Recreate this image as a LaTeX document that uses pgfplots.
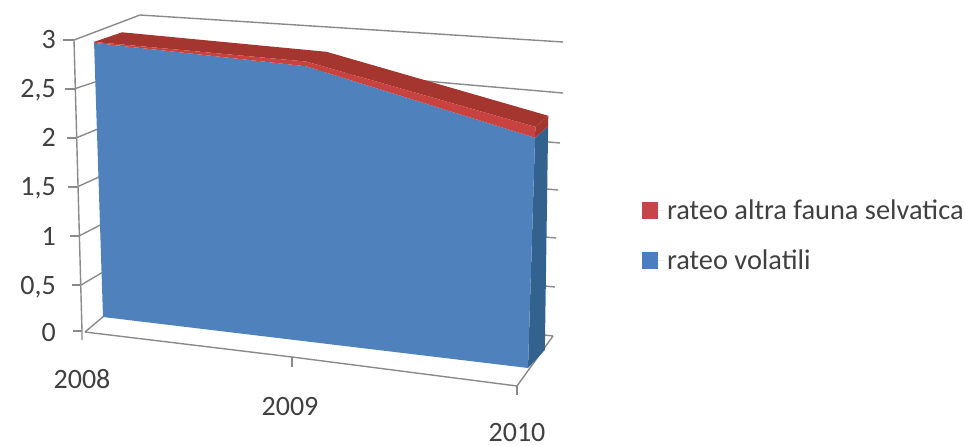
\documentclass[border=0pt]{standalone}
\usepackage{fontspec}
\setmainfont{Carlito}
\usepackage{pgfplots}
\pgfplotsset{compat=1.18}
\definecolor{wall}{HTML}{8A8A8A}
\definecolor{ink}{HTML}{404040}
\definecolor{bluefront}{HTML}{4F81BD}
\definecolor{blueside}{HTML}{33628F}
\definecolor{redfront}{HTML}{C8433F}
\definecolor{redtop}{HTML}{A5352F}
\definecolor{redkey}{HTML}{C4464A}
\definecolor{bluekey}{HTML}{4A7EC0}
\pgfplotsset{
  table/proj/.style={
    x expr={sx(\thisrow{t},\thisrow{v},\thisrow{d})},
    y expr={sy(\thisrow{t},\thisrow{v},\thisrow{d})},
  },
  frame/.style={draw=wall,line width=1.4pt,no marks,forget plot},
  face/.style={draw=none,no marks,forget plot},
}
\begin{document}
% Perspective of the chart box: t is the year index, v the stacked value,
% d is 0 on the front face of the ribbon and 1 on its back edge.
\begin{tikzpicture}[declare function={
    fr(\yr)=\yr/(\yr+1.088*(2-\yr));
    sx(\yr,\val,\dep)=103+425*fr(\yr)+(-3+6*fr(\yr))*\val+\dep*(28-15*fr(\yr)+1.6*(2.4-\val)*fr(\yr));
    sy(\yr,\val,\dep)=317+51*fr(\yr)-(92+6*fr(\yr))*\val+\dep*(-18+2.8*\val);
  }]
\useasboundingbox (0,0) rectangle (965pt,446pt);
\begin{axis}[
  scale only axis,width=965pt,height=446pt,
  xmin=0,xmax=965,ymin=0,ymax=446,y dir=reverse,
  hide axis,clip=false,
  legend cell align=left,
  legend style={at={(axis cs:642,198)},anchor=north west,draw=none,fill=none,
    font=\fontsize{28.4}{28.4}\selectfont\color{ink},row sep=25pt,
    inner sep=0pt,outer sep=0pt},
]
% back wall and side wall gridlines
\addplot[frame] coordinates {(74,40) (140,15) (563,42)};
\addplot[frame] coordinates {(74,89) (110,77)};
\addplot[frame] coordinates {(300,69) (447,83) (563,93)};
\addplot[frame] coordinates {(76,138) (110,124)};
\addplot[frame] coordinates {(300,120) (560,143)};
\addplot[frame] coordinates {(77,187) (110,172)};
\addplot[frame] coordinates {(300,168) (558,190)};
\addplot[frame] coordinates {(79,236) (110,220)};
\addplot[frame] coordinates {(300,215) (556,238)};
\addplot[frame] coordinates {(81,285) (110,268)};
\addplot[frame] coordinates {(300,262) (555,287)};
\addplot[frame] coordinates {(85,332) (110,311)};
\addplot[frame] coordinates {(300,308) (553,336)};
% floor and front axis lines with their tick marks
\addplot[frame] coordinates {(85,332) (292,357) (517,386) (553,336)};
\addplot[frame] coordinates {(74,40) (82,331) (82,340)};
\addplot[frame] coordinates {(63,40) (74,40)};
\addplot[frame] coordinates {(65,89) (75,89)};
\addplot[frame] coordinates {(67,138) (76,138)};
\addplot[frame] coordinates {(68,187) (77,187)};
\addplot[frame] coordinates {(70,236) (79,236)};
\addplot[frame] coordinates {(72,285) (81,285)};
\addplot[frame] coordinates {(73,331) (82,331)};
\addplot[frame] coordinates {(292,357) (292,367)};
\addplot[frame] coordinates {(517,386) (517,395)};
% rateo volatili
\addplot[face,fill=blueside] table[proj] {
t v d
2 0 0
2 2.35 0
2 2.35 1
2 0 1
} -- cycle;
\addplot[face,fill=bluefront] table[proj] {
t v d
0 0 0
0 2.98 0
1 2.90 0
2 2.35 0
2 0 0
} -- cycle;
% rateo altra fauna selvatica, stacked on top
\addplot[face,fill=redtop] table[proj] {
t v d
0 2.99 0
1 2.95 0
2 2.46 0
2 2.46 1
1 2.95 1
0 2.99 1
} -- cycle;
\addplot[face,fill=redtop] table[proj] {
t v d
2 2.35 0
2 2.46 0
2 2.46 1
2 2.35 1
} -- cycle;
\addplot[face,fill=redfront] table[proj] {
t v d
0 2.98 0
0 2.99 0
1 2.95 0
2 2.46 0
2 2.35 0
1 2.90 0
} -- cycle;
% legend keys
\addlegendimage{area legend,draw=none,fill=redkey,
  legend image code/.code={\fill[redkey] (0pt,-8.5pt) rectangle (16pt,8.5pt);
    \path (0pt,0pt) -- (23pt,0pt);}}
\addlegendentry{rateo altra fauna selvatica}
\addlegendimage{area legend,draw=none,fill=bluekey,
  legend image code/.code={\fill[bluekey] (0pt,-8.5pt) rectangle (16pt,8.5pt);
    \path (0pt,0pt) -- (23pt,0pt);}}
\addlegendentry{rateo volatili}
% value and year labels
\begin{scope}[every node/.style={font=\fontsize{28}{28}\selectfont,text=ink,inner sep=0pt}]
\node[anchor=base east] at (axis cs:56,49) {3};
\node[anchor=base east] at (axis cs:56,98) {2,5};
\node[anchor=base east] at (axis cs:56,147) {2};
\node[anchor=base east] at (axis cs:56,196) {1,5};
\node[anchor=base east] at (axis cs:56,245) {1};
\node[anchor=base east] at (axis cs:56,294) {0,5};
\node[anchor=base east] at (axis cs:56,341) {0};
\node[anchor=base] at (axis cs:82,388) {2008};
\node[anchor=base] at (axis cs:290,415) {2009};
\node[anchor=base] at (axis cs:517,441) {2010};
\end{scope}
\end{axis}
\end{tikzpicture}
\end{document}
